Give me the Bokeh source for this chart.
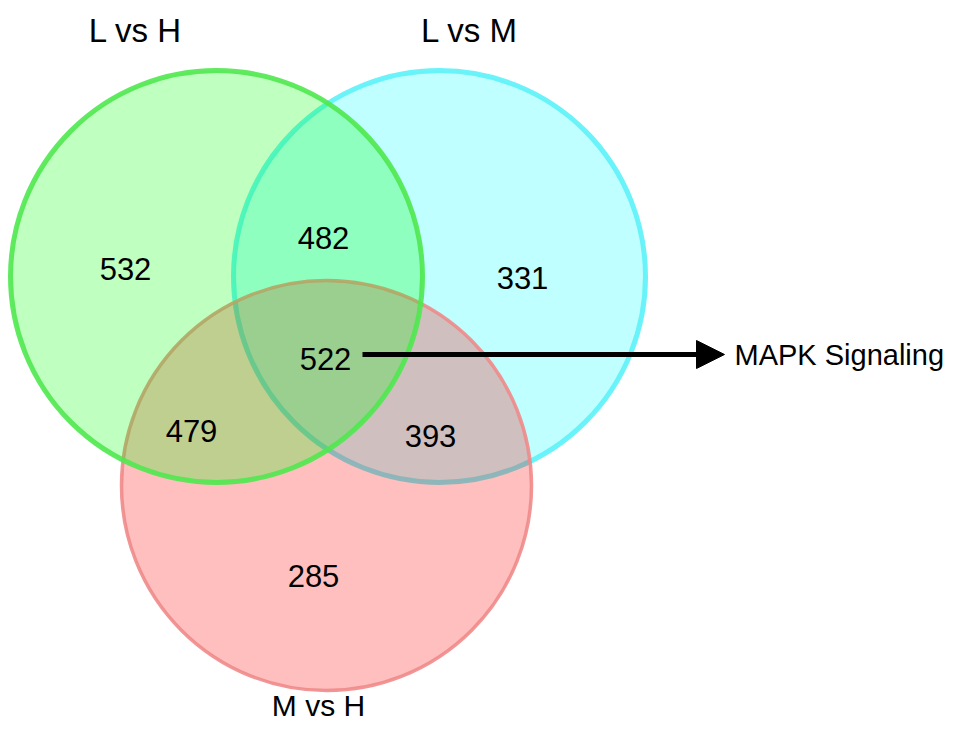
from bokeh.plotting import figure
from bokeh.models import Range1d, Arrow, NormalHead
from bokeh.core.properties import value
from bokeh.embed import file_html
from bokeh.resources import INLINE

# Data
set_names = ["L vs H", "L vs M", "M vs H"]
region_names = ["LH only", "LH&LM", "LM only", "all", "LH&MH", "LM&MH", "MH only"]
region_counts = [532, 482, 331, 522, 479, 393, 285]
annotation = "MAPK Signaling"

# Layout (pixel coordinates of the picture)
circle_x = [216, 439, 326]
circle_y = [276, 276, 485]
circle_r = [206, 206, 205]
fills = ["#00ff00", "#00ffff", "#ff0000"]
strokes = ["#4fe84f", "#5cf2f8", "#f08a8a"]
stroke_w = [5, 5, 3.5]
draw_order = [1, 2, 0]  # cyan below, red, green on top
set_label_x = [135, 469, 318]
set_label_y = [30, 30, 705]
set_label_size = ["33px", "33px", "30px"]
region_x = [125, 323, 522, 325, 191, 430, 313]
region_y = [268, 237, 277, 358, 430, 435, 575]

W, H = 950, 721
p = figure(width=W, height=H, output_backend="svg", toolbar_location=None,
           x_range=Range1d(0, W), y_range=Range1d(H, 0),
           min_border=0, outline_line_color=None)
p.axis.visible = False
p.grid.visible = False

for i in draw_order:
    p.circle(x=[circle_x[i]], y=[circle_y[i]], radius=circle_r[i],
             fill_color=fills[i], fill_alpha=0.25,
             line_color=strokes[i], line_width=stroke_w[i], line_alpha=0.9)

font = value("Liberation Sans")
for i in range(3):
    p.text(x=[set_label_x[i]], y=[set_label_y[i]], text=[set_names[i]], text_font=font,
           text_font_size=set_label_size[i], text_align="center", text_baseline="middle",
           text_color="black")
p.text(x=region_x, y=region_y, text=[str(c) for c in region_counts], text_font=font,
       text_font_size="31px", text_align="center", text_baseline="middle",
       text_color="black")

p.add_layout(Arrow(x_start=362, y_start=354, x_end=724, y_end=354,
                   line_width=5, line_color="black",
                   end=NormalHead(size=28, fill_color="black", line_color="black")))
p.text(x=[734], y=[354], text=[annotation], text_font=font,
       text_font_size="29px", text_align="left", text_baseline="middle",
       text_color="black")

open("out.html", "w").write(file_html(p, INLINE))
